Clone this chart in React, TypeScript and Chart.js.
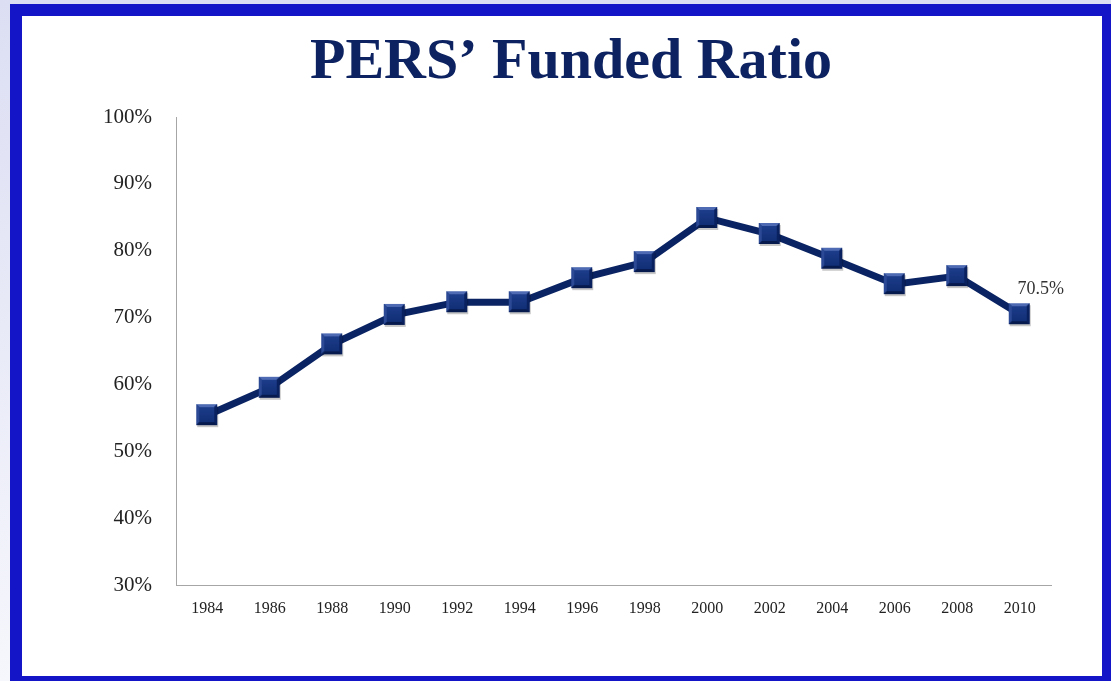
import React, { useEffect, useRef } from "react";
import { Chart, registerables } from "chart.js";

Chart.register(...registerables);

const chartTitle = "PERS’ Funded Ratio";
const years = ["1984", "1986", "1988", "1990", "1992", "1994", "1996", "1998", "2000", "2002", "2004", "2006", "2008", "2010"];
const fundedRatio = [55.4, 59.5, 66.0, 70.4, 72.3, 72.3, 75.9, 78.3, 84.9, 82.5, 78.8, 75.0, 76.2, 70.5];
const yMin = 30;
const yMax = 100;
const yStep = 10;
const lastPointLabel = "70.5%";

function makeMarker(): HTMLCanvasElement {
  const c = document.createElement("canvas");
  c.width = 26;
  c.height = 26;
  const g = c.getContext("2d")!;
  const x0 = 2, y0 = 2, s = 21, b = 3;
  g.fillStyle = "rgba(0,0,0,0.22)";
  g.fillRect(x0 + 1, y0 + 2, s, s);
  g.fillStyle = "#0f2c72";
  g.fillRect(x0, y0, s, s);
  g.fillStyle = "#4d6ab2";
  g.beginPath();
  g.moveTo(x0, y0); g.lineTo(x0 + s, y0); g.lineTo(x0 + s - b, y0 + b); g.lineTo(x0 + b, y0 + b); g.closePath(); g.fill();
  g.fillStyle = "#2b4994";
  g.beginPath();
  g.moveTo(x0, y0); g.lineTo(x0 + b, y0 + b); g.lineTo(x0 + b, y0 + s - b); g.lineTo(x0, y0 + s); g.closePath(); g.fill();
  g.fillStyle = "#0a2160";
  g.beginPath();
  g.moveTo(x0 + s, y0); g.lineTo(x0 + s, y0 + s); g.lineTo(x0 + s - b, y0 + s - b); g.lineTo(x0 + s - b, y0 + b); g.closePath(); g.fill();
  g.fillStyle = "#071a4e";
  g.beginPath();
  g.moveTo(x0, y0 + s); g.lineTo(x0 + b, y0 + s - b); g.lineTo(x0 + s - b, y0 + s - b); g.lineTo(x0 + s, y0 + s); g.closePath(); g.fill();
  const grad = g.createLinearGradient(0, y0 + b, 0, y0 + s - b);
  grad.addColorStop(0, "#1d3c8a");
  grad.addColorStop(1, "#112f76");
  g.fillStyle = grad;
  g.fillRect(x0 + b, y0 + b, s - 2 * b, s - 2 * b);
  return c;
}

const lastLabelPlugin = {
  id: "lastLabel",
  afterDatasetsDraw(chart: any) {
    const meta = chart.getDatasetMeta(0);
    const pt = meta.data[meta.data.length - 1];
    if (!pt) return;
    const ctx = chart.ctx;
    ctx.save();
    ctx.font = '18px "Liberation Serif"';
    ctx.fillStyle = "#333333";
    ctx.textAlign = "center";
    ctx.textBaseline = "middle";
    ctx.fillText(lastPointLabel, pt.x + 21, pt.y - 25);
    ctx.restore();
  },
};

export default function App() {
  const canvasRef = useRef<HTMLCanvasElement | null>(null);

  useEffect(() => {
    if (!canvasRef.current) return;
    const marker = makeMarker();
    const chart = new Chart(canvasRef.current, {
      type: "line",
      data: {
        labels: years,
        datasets: [
          {
            data: fundedRatio,
            borderColor: "#0a2362",
            borderWidth: 7,
            pointStyle: marker as any,
            pointRadius: 11,
            pointHoverRadius: 11,
            tension: 0,
            fill: false,
          },
        ],
      },
      options: {
        responsive: false,
        animation: false,
        layout: { padding: { left: 69, right: 51, top: 0, bottom: 0 } },
        plugins: {
          legend: { display: false },
          tooltip: { enabled: false },
          title: {
            display: true,
            text: chartTitle,
            color: "#0d2361",
            font: { family: '"Liberation Serif"', size: 58, weight: "bold", lineHeight: 1.2 },
            padding: { top: 12, bottom: 19.4 },
          },
        },
        scales: {
          x: {
            type: "category",
            offset: true,
            grid: { display: false, drawTicks: false },
            border: { display: true, color: "#a6a6a6", width: 1 },
            ticks: {
              color: "#222222",
              font: { family: '"Liberation Serif"', size: 16 },
              padding: 14,
              maxRotation: 0,
              autoSkip: false,
            },
            afterFit: (scale: any) => {
              scale.height = 91;
            },
          },
          y: {
            min: yMin,
            max: yMax,
            grid: { display: false, drawTicks: false },
            border: { display: true, color: "#a6a6a6", width: 1 },
            ticks: {
              stepSize: yStep,
              color: "#222222",
              font: { family: '"Liberation Serif"', size: 21 },
              padding: 24,
              callback: (v: any) => v + "%",
            },
            afterFit: (scale: any) => {
              scale.width = 85;
            },
          },
        },
      },
      plugins: [lastLabelPlugin],
    });
    return () => chart.destroy();
  }, []);

  return (
    <div
      style={{
        position: "fixed",
        left: 0,
        top: 0,
        width: 1111,
        height: 681,
        overflow: "hidden",
        background: "linear-gradient(#dcdef3, #f6f7fc)",
      }}
    >
      <div
        style={{
          position: "absolute",
          left: 10,
          top: 4,
          width: 1080,
          height: 660,
          border: "12px solid #1515c8",
          background: "#ffffff",
        }}
      >
        <canvas ref={canvasRef} width={1080} height={660} style={{ display: "block" }} />
      </div>
    </div>
  );
}
